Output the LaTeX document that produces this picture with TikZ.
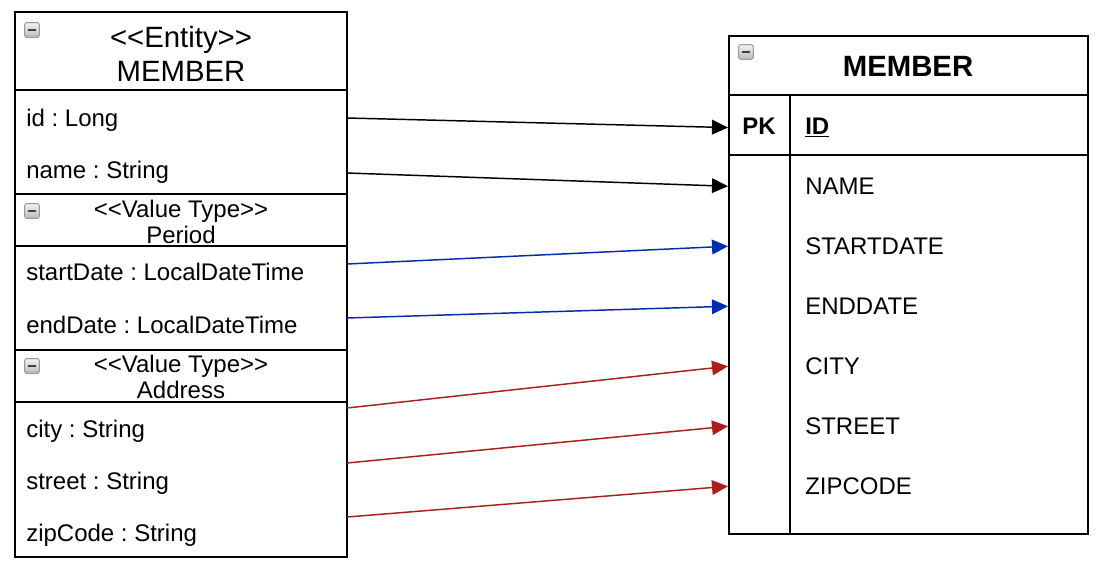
\documentclass[tikz,border=0pt]{standalone}
\usepackage{fontspec}
\setmainfont{Liberation Sans}
\usepackage{xcolor}
\usetikzlibrary{arrows.meta, fit, positioning}

\definecolor{valblue}{RGB}{0,45,175}
\definecolor{valred}{RGB}{170,32,24}
\newcommand{\stereo}[1]{<\kern0pt<#1>\kern0pt>}
\frenchspacing

\begin{document}
\begin{tikzpicture}[
  x=0.75pt, y=-0.75pt,
  every node/.style={font=\fontsize{18}{21.6}\selectfont, inner sep=0pt},
  frame/.style={draw, line width=1.5pt, inner sep=0pt},
  sep/.style={line width=1.5pt},
  head/.style={align=center, font=\fontsize{22}{25.5}\selectfont},
  subhead/.style={align=center, font=\fontsize{18}{19.5}\selectfont},
  field/.style={anchor=base west},
  minus/.style={rectangle, rounded corners=1.2pt, draw=gray!80, line width=0.7pt,
    top color=gray!10, bottom color=gray!55, minimum size=11pt,
    path picture={\draw[line width=1.8pt, black!75]
      ([xshift=2.4pt]path picture bounding box.west) -- ([xshift=-2.4pt]path picture bounding box.east);}},
  arr/.style={-{Triangle[length=12pt, width=11pt]}, line width=1.1pt}
]
  \useasboundingbox (0,0) rectangle (1120,578);

  % entity (left)
  \node[frame, fit={(15,12)(347,557)}] (ent) {};
  \draw[sep] (15,90) -- (347,90);
  \draw[sep] (15,194) -- (347,194);
  \draw[sep] (15,246) -- (347,246);
  \draw[sep] (15,350) -- (347,350);
  \draw[sep] (15,402) -- (347,402);

  \node[minus] (entIcon) at (32,30) {};
  \node[head] (entHead) at (181,54) {\stereo{Entity}\\MEMBER};
  \node[field] (fId) at (26,126.5) {id : Long};
  \node[field] (fName) at (26,178.5) {name : String};

  \node[minus] (perIcon) at (32,211) {};
  \node[subhead] (perHead) at (181,221.5) {\stereo{Value Type}\\Period};
  \node[field] (fStart) at (26,280.5) {startDate : LocalDateTime};
  \node[field] (fEnd) at (26,333.5) {endDate : LocalDateTime};

  \node[minus] (adrIcon) at (32,366) {};
  \node[subhead] (adrHead) at (181,376.5) {\stereo{Value Type}\\Address};
  \node[field] (fCity) at (26,437.5) {city : String};
  \node[field] (fStreet) at (26,489.5) {street : String};
  \node[field] (fZip) at (26,541.5) {zipCode : String};

  % table (right)
  \node[frame, fit={(729,36)(1088,534)}] (tbl) {};
  \draw[sep] (729,95) -- (1088,95);
  \draw[sep] (729,155) -- (1088,155);
  \draw[sep] (790,95) -- (790,534);

  \node[minus] (tblIcon) at (746,52) {};
  \node[font=\fontsize{22}{26}\selectfont\bfseries] (tblHead) at (908,66) {MEMBER};
  \node[field, font=\fontsize{18}{21.6}\selectfont\bfseries] (cPk) at (742,134.5) {PK};
  \node[field, font=\fontsize{18}{21.6}\selectfont\bfseries] (cId) at (805,134.5) {\underline{ID}};
  \node[field] (cName) at (805,194.5) {NAME};
  \node[field] (cStart) at (805,254.5) {STARTDATE};
  \node[field] (cEnd) at (805,314.5) {ENDDATE};
  \node[field] (cCity) at (805,374.5) {CITY};
  \node[field] (cStreet) at (805,434.5) {STREET};
  \node[field] (cZip) at (805,494.5) {ZIPCODE};

  % mapping
  \coordinate (oId) at (347,118);
  \coordinate (oName) at (347,173);
  \coordinate (oStart) at (347,264);
  \coordinate (oEnd) at (347,318);
  \coordinate (oCity) at (347,408);
  \coordinate (oStreet) at (347,463);
  \coordinate (oZip) at (347,517);

  \draw[arr] (oId) -- (cId -| tbl.west);
  \draw[arr] (oName) -- (cName -| tbl.west);
  \draw[arr, valblue] (oStart) -- (cStart -| tbl.west);
  \draw[arr, valblue] (oEnd) -- (cEnd -| tbl.west);
  \draw[arr, valred] (oCity) -- (cCity -| tbl.west);
  \draw[arr, valred] (oStreet) -- (cStreet -| tbl.west);
  \draw[arr, valred] (oZip) -- (cZip -| tbl.west);
\end{tikzpicture}
\end{document}
